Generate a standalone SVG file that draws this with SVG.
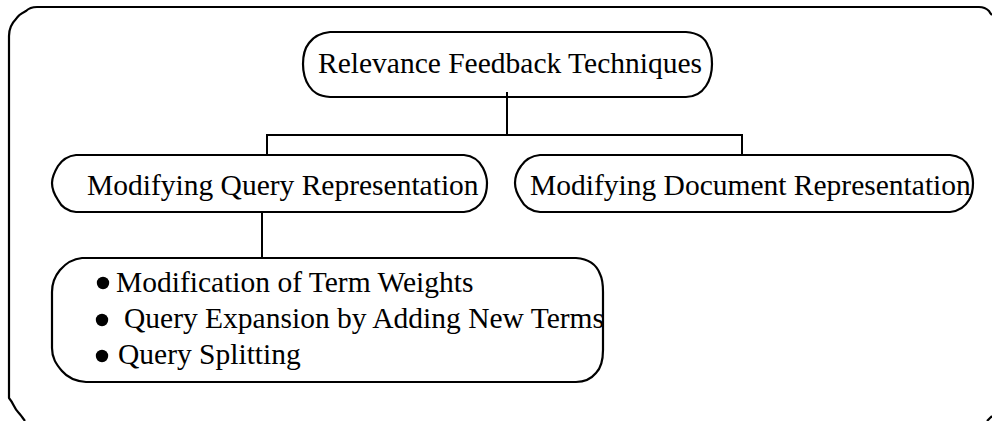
<svg xmlns="http://www.w3.org/2000/svg" width="992" height="421" viewBox="0 0 992 421">
<style>
.box{fill:none;stroke:#000;stroke-width:2.2;stroke-linejoin:round}
.ln{fill:none;stroke:#000;stroke-width:2}
.t{font-family:"Liberation Serif","Times New Roman",serif;font-size:29.5px;fill:#000}
.b{fill:#000}
</style>
<rect width="992" height="421" fill="#fff"/>
<g id="frame">
<path class="box" d="M 25,421 C 22,417 20,414 18,412 C 14,408 14,404 9,398 L 9,36 C 9,27 13,22 16,19 C 19,14 22,13 26,11 C 29,8 33,7 37,7 L 979,7 C 984,7 987,9 989,11 C 990,13 991,14 992,15"/>
<path class="box" d="M 992,416 C 990,418 989,419 987,421"/>
</g>
<g id="connectors">
<path class="ln" d="M 507,92 V 135"/>
<path class="ln" d="M 267,156 V 135 H 742 V 156"/>
<path class="ln" d="M 262,212 V 258"/>
</g>
<g id="node-top">
<path class="box" d="M 330,32 L 686,32 C 700,33 706,40 708,46 C 712,52 712,58 712,64 C 712,72 710,80 706,86 C 702,92 696,97 686,97 L 330,97 C 318,96 313,92 309,86 C 305,80 303,72 303,64 C 303,56 305,48 309,43 C 314,36 320,33 330,32 Z"/>
<text class="t" x="318" y="73">Relevance Feedback Techniques</text>
</g>
<g id="node-query">
<path class="box" d="M 76,155 L 464,155 C 474,156 480,162 483,168 C 486,174 487,178 487,183 C 487,190 486,195 483,200 C 479,207 474,211 464,212 L 76,212 C 66,211 61,206 58,200 C 54,194 52,189 52,183 C 52,176 55,171 58,166 C 62,160 67,156 76,155 Z"/>
<text class="t" x="87" y="195">Modifying Query Representation</text>
</g>
<g id="node-document">
<path class="box" d="M 540,155 L 950,155 C 960,156 966,161 969,167 C 972,173 973,178 973,183 C 973,190 972,195 969,200 C 965,207 960,211 950,212 L 540,212 C 530,211 524,206 521,200 C 517,194 515,189 515,183 C 515,176 518,170 521,166 C 525,160 530,156 540,155 Z"/>
<text class="t" x="530" y="195">Modifying Document Representation</text>
</g>
<g id="node-methods">
<path class="box" d="M 82,258 L 576,258 C 590,259 597,266 600,274 C 603,280 603,285 603,292 L 603,350 C 603,360 601,368 596,373 C 591,379 585,382 576,382 L 86,382 C 74,381 67,377 62,371 C 56,364 52,358 52,348 L 52,292 C 52,283 55,276 60,270 C 66,263 72,259 82,258 Z"/>
<circle class="b" cx="103" cy="283" r="6.2"/>
<circle class="b" cx="102" cy="320" r="6.2"/>
<circle class="b" cx="102" cy="356" r="6.2"/>
<text class="t" x="116" y="292">Modification of Term Weights</text>
<text class="t" x="124" y="328">Query Expansion by Adding New Terms</text>
<text class="t" x="118" y="364">Query Splitting</text>
</g>
</svg>
